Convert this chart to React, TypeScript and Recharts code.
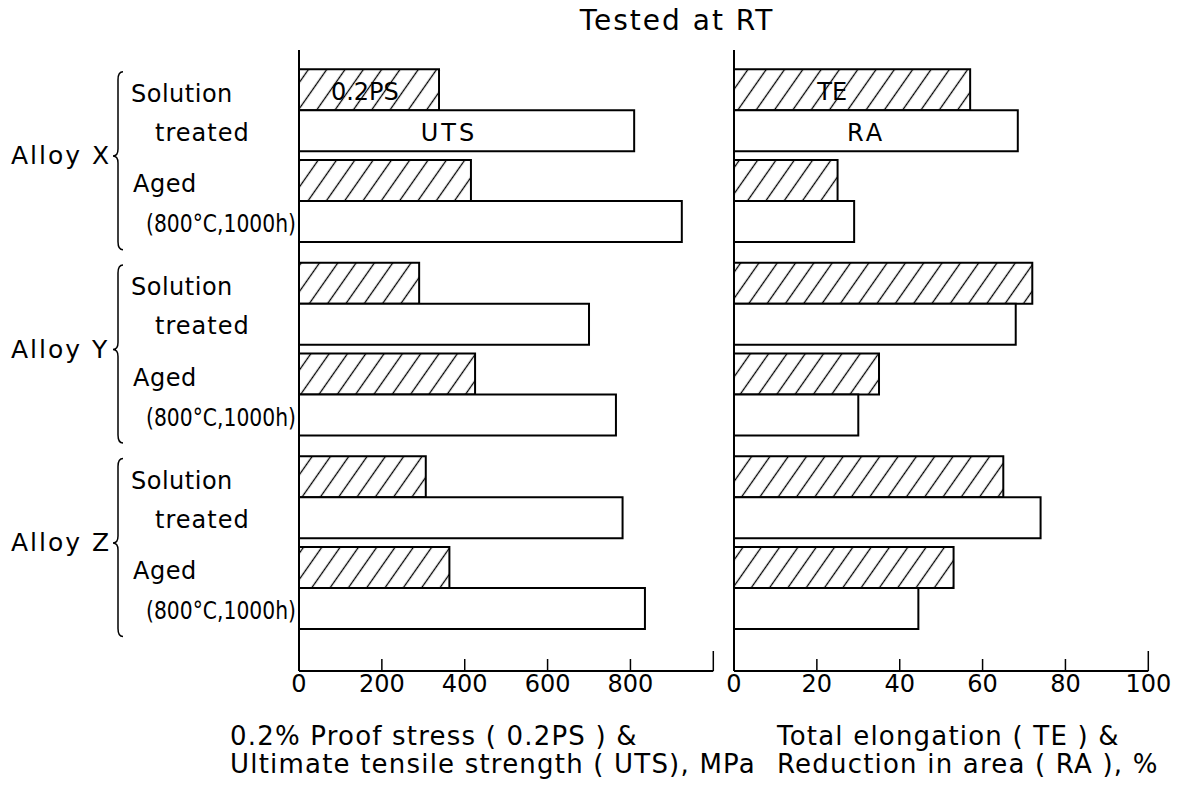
import React from "react";
import { BarChart, Bar, XAxis, YAxis, LabelList } from "recharts";

const alloys = ["Alloy X", "Alloy Y", "Alloy Z"];
const conditions = [
  ["Solution", "treated"],
  ["Aged", "(800°C,1000h)"],
];

// rows: X solution, X aged, Y solution, Y aged, Z solution, Z aged
const proofStress = [338, 415, 290, 425, 306, 363];
const tensileStrength = [809, 924, 700, 765, 781, 835];
const elongation = [57, 25, 72, 35, 65, 53];
const areaReduction = [68.5, 29, 68, 30, 74, 44.5];

const stressTicks = [0, 200, 400, 600, 800, 1000];
const percentTicks = [0, 20, 40, 60, 80, 100];

const W = 1177;
const H = 798;
const PLOT_TOP = 50;
const PLOT_BOTTOM = 671;
const GROUP_STEP = 2.13; // alloys sit a bit further apart than the two conditions
const SLOT_DOMAIN: [number, number] = [-0.668, 6.17];
const SLOT_PX = (PLOT_BOTTOM - PLOT_TOP) / (SLOT_DOMAIN[1] - SLOT_DOMAIN[0]);
const BAR = 41;
const FONT = "'DejaVu Sans', sans-serif";

const rows = proofStress.map((_, i) => ({
  slot: Math.floor(i / 2) * GROUP_STEP + (i % 2),
  ps: proofStress[i],
  uts: tensileStrength[i],
  te: elongation[i],
  ra: areaReduction[i],
}));
const slotTicks = rows.map((r) => r.slot);

function makeValueTick(max: number, labelLast: boolean) {
  return function ValueTick({ x, y, payload }: any) {
    const v = payload.value;
    const last = v === max;
    return (
      <g>
        {v !== 0 && (
          <line x1={x} x2={x} y1={y} y2={y - (last ? 20 : 12)} stroke="#000" strokeWidth={1.5} />
        )}
        {(!last || labelLast) && (
          <text x={x} y={y + 21} textAnchor="middle" fontFamily={FONT} fontSize={24} fill="#000">
            {v}
          </text>
        )}
      </g>
    );
  };
}

// brace + alloy name spanning the two condition rows of one alloy
function AlloyMark({ x, y, name }: { x: number; y: number; name: string }) {
  const bx = x - 181;
  const tip = y + SLOT_PX / 2;
  const top = y - 39;
  const bottom = y + 139;
  const brace = `M${bx + 5},${top} Q${bx},${top} ${bx},${top + 8} L${bx},${tip - 7} Q${bx},${tip} ${bx - 5},${tip} Q${bx},${tip} ${bx},${tip + 7} L${bx},${bottom - 8} Q${bx},${bottom} ${bx + 5},${bottom}`;
  return (
    <g>
      <text x={x - 288} y={tip + 8} fontFamily={FONT} fontSize={25} letterSpacing={2} fill="#000">
        {name}
      </text>
      <path d={brace} fill="none" stroke="#000" strokeWidth={1.5} />
    </g>
  );
}

function ConditionTick({ x, y, index }: any) {
  const aged = index % 2 === 1;
  const [first, second] = conditions[index % 2];
  return (
    <g fontFamily={FONT} fontSize={24} fill="#000">
      {!aged && <AlloyMark x={x} y={y} name={alloys[Math.floor(index / 2)]} />}
      <text x={x - (aged ? 166 : 168)} y={y - 9} letterSpacing={0.5}>
        {first}
      </text>
      {aged ? (
        <text x={x - 153} y={y + 31} textLength={150} lengthAdjust="spacingAndGlyphs">
          {second}
        </text>
      ) : (
        <text x={x - 144} y={y + 30} letterSpacing={1}>
          {second}
        </text>
      )}
    </g>
  );
}

function seriesLabel(text: string, at: number, spacing: number) {
  return function SeriesLabel({ x, y, width, height, index }: any) {
    if (index !== 0) return null;
    return (
      <text
        x={x + width * at + spacing / 2}
        y={y + height / 2 + 10.5}
        textAnchor="middle"
        fontFamily={FONT}
        fontSize={24}
        letterSpacing={spacing}
        fill="#000"
      >
        {text}
      </text>
    );
  };
}

const axisStroke = { stroke: "#000", strokeWidth: 2 };

function Panel({
  left,
  right,
  max,
  ticks,
  labelLast,
  hatchedKey,
  plainKey,
  hatchedName,
  plainName,
  hatchedAt,
  plainAt,
  withCategories,
}: any) {
  return (
    <BarChart
      width={W}
      height={H}
      layout="vertical"
      data={rows}
      barGap={0}
      barSize={BAR}
      margin={{ top: PLOT_TOP, right: W - right, bottom: H - PLOT_BOTTOM - 1, left: left - 1 }}
    >
      <XAxis
        type="number"
        domain={[0, max]}
        ticks={ticks}
        interval={0}
        height={1}
        tickSize={0}
        tickMargin={0}
        tickLine={false}
        axisLine={axisStroke}
        tick={makeValueTick(max, labelLast)}
      />
      <YAxis
        type="number"
        dataKey="slot"
        domain={SLOT_DOMAIN}
        allowDataOverflow
        ticks={slotTicks}
        interval={0}
        width={1}
        tickSize={0}
        tickMargin={0}
        tickLine={false}
        axisLine={axisStroke}
        tick={withCategories ? ConditionTick : false}
      />
      <Bar dataKey={hatchedKey} fill="url(#hatch)" stroke="#000" strokeWidth={2} isAnimationActive={false}>
        <LabelList dataKey={hatchedKey} content={seriesLabel(hatchedName, hatchedAt, 0)} />
      </Bar>
      <Bar dataKey={plainKey} fill="#fff" stroke="#000" strokeWidth={2} isAnimationActive={false}>
        <LabelList dataKey={plainKey} content={seriesLabel(plainName, plainAt, 3)} />
      </Bar>
    </BarChart>
  );
}

const layer: React.CSSProperties = { position: "absolute", left: 0, top: 0 };

export default function App() {
  return (
    <div style={{ position: "absolute", left: 0, top: 0, width: W, height: H, background: "#fff" }}>
      <svg width={0} height={0} style={{ position: "absolute" }}>
        <defs>
          <pattern id="hatch" patternUnits="userSpaceOnUse" width={15} height={15} patternTransform="rotate(35)">
            <rect width={15} height={15} fill="#fff" />
            <line x1={7.5} y1={0} x2={7.5} y2={15} stroke="#000" strokeWidth={1.3} />
          </pattern>
        </defs>
      </svg>
      <div style={layer}>
        <Panel
          left={299}
          right={713.3}
          max={1000}
          ticks={stressTicks}
          labelLast={false}
          hatchedKey="ps"
          plainKey="uts"
          hatchedName="0.2PS"
          plainName="UTS"
          hatchedAt={0.47}
          plainAt={0.443}
          withCategories
        />
      </div>
      <div style={layer}>
        <Panel
          left={734}
          right={1148.3}
          max={100}
          ticks={percentTicks}
          labelLast
          hatchedKey="te"
          plainKey="ra"
          hatchedName="TE"
          plainName="RA"
          hatchedAt={0.416}
          plainAt={0.46}
          withCategories={false}
        />
      </div>
      <svg
        width={W}
        height={H}
        style={{ ...layer, pointerEvents: "none", whiteSpace: "pre" }}
        fontFamily={FONT}
        fill="#000"
      >
        <text x={677} y={30} textAnchor="middle" fontSize={28} letterSpacing={2}>
          Tested at RT
        </text>
        <g fontSize={26} letterSpacing={1.2}>
          <text x={230} y={745}>0.2% Proof stress  ( 0.2PS )  &amp;</text>
          <text x={230} y={773}>Ultimate tensile strength ( UTS), MPa</text>
          <text x={777} y={745}>Total elongation ( TE ) &amp;</text>
          <text x={777} y={773}>Reduction in area ( RA ), %</text>
        </g>
      </svg>
    </div>
  );
}
